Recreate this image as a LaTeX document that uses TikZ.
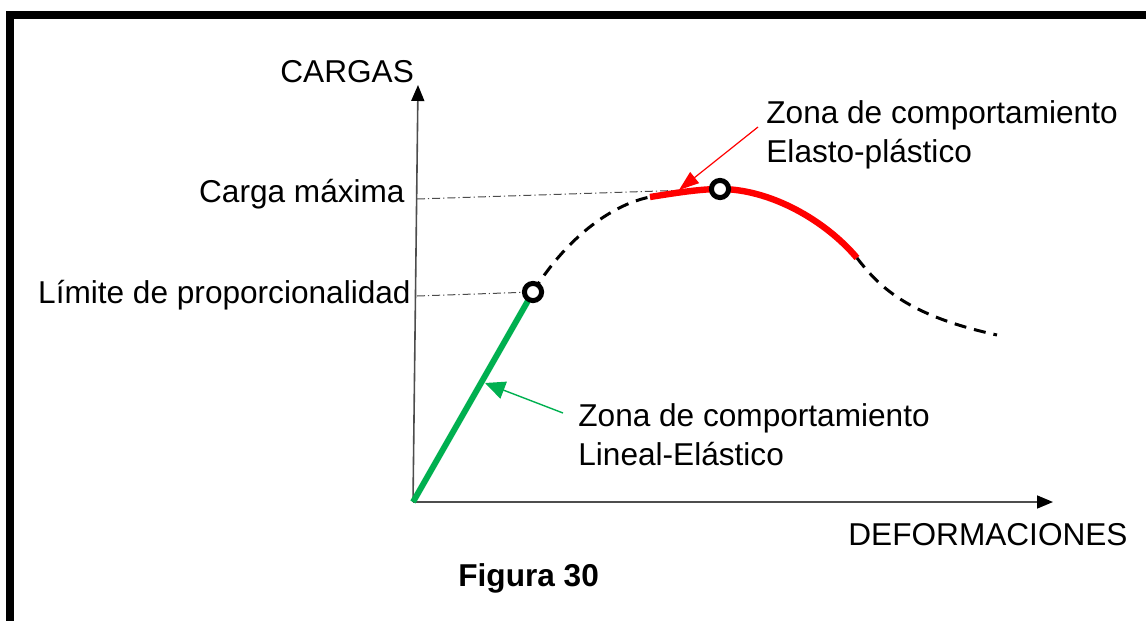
\documentclass[tikz,border=0pt]{standalone}
\usepackage{fontspec}
\setmainfont{Liberation Sans}
\usepackage{tikz}
\usetikzlibrary{positioning}
\usetikzlibrary{arrows.meta}
\definecolor{axisgray}{HTML}{4D4D4D}
\definecolor{elgreen}{HTML}{00B050}
\tikzset{lbl/.style={inner sep=0pt,font=\fontsize{15.8}{19.5}\selectfont},
  axis line/.style={draw=axisgray,line width=0.8pt,-{Triangle[length=8pt,width=6.5pt,color=black]}},
  ref line/.style={draw=black!70,line width=0.5pt,dash pattern=on 4pt off 1.5pt on 0.6pt off 1.5pt},
  curve dash/.style={line width=1.5pt,dash pattern=on 6pt off 4pt},
  mark node/.style={circle,draw,fill=white,line width=2.5pt,minimum size=8.6pt,inner sep=0pt},}

\begin{document}
\begin{tikzpicture}[x=0.5pt,y=-0.5pt,>=Triangle]
	\useasboundingbox (0,0) rectangle (1146,621);
	\draw[line width=4pt] (10,630) -- (10,15) -- (1160,15);

	\coordinate (O) at (413,502);
	\coordinate (ytip) at (418,85);
	\coordinate (xtip) at (1053,502);
	\coordinate (ylim) at (417,296);
	\coordinate (ymax) at (417,199);
	\coordinate (plim) at (533,292);
	\coordinate (pmax) at (720,189);
	\coordinate (rA) at (650,197);
	\coordinate (rB) at (857,258);
	\coordinate (tail) at (997,335);
	\coordinate (rs) at (758,127);
	\coordinate (rt) at (679,190);
	\coordinate (gs) at (563,413);
	\coordinate (gt) at (485,383);

	\draw[axis line] (O) -- (ytip);
	\draw[axis line] (O) -- (xtip);
	\draw[ref line] (ylim) -- (plim);
	\draw[ref line] (ymax) -- (pmax);

	\draw[elgreen,line width=3pt] (O) -- (plim);
	\draw[curve dash] (plim) .. controls (565,240) and (610,205) .. (rA);
	\draw[red,line width=3.2pt] (rA) .. controls (675,193) and (700,189) .. (pmax)
	    .. controls (770,189) and (825,220) .. (rB);
	\draw[curve dash] (rB) .. controls (878,285) and (905,315) .. (tail);

	\node[mark node] (lim) at (plim) {};
	\node[mark node] (max) at (pmax) {};

	\draw[red,line width=0.6pt,-{Triangle[length=10pt,width=7pt]}] (rs) -- (rt);
	\draw[elgreen,line width=0.7pt,-{Triangle[length=10pt,width=9pt]}] (gs) -- (gt);

	\node[lbl,anchor=base west] (cargas) at (280,82) {CARGAS};
	\node[lbl,anchor=base west] (deform) at (848,545) {DEFORMACIONES};
	\node[lbl,anchor=base east] (cmaxlbl) at (405,202) {Carga máxima};
	\node[lbl,anchor=base east] (limlbl) at (411,303) {Límite de proporcionalidad};
	\node[lbl,anchor=base west,align=left] (zep) at (766,162) {Zona de comportamiento\\Elasto-plástico};
	\node[lbl,anchor=base west,align=left] (zle) at (578,465) {Zona de comportamiento\\Lineal-Elástico};
	\node[lbl,font=\fontsize{15.8}{19.5}\selectfont\bfseries,anchor=base west] (fig) at (458,586) {Figura 30};
\end{tikzpicture}
\end{document}
